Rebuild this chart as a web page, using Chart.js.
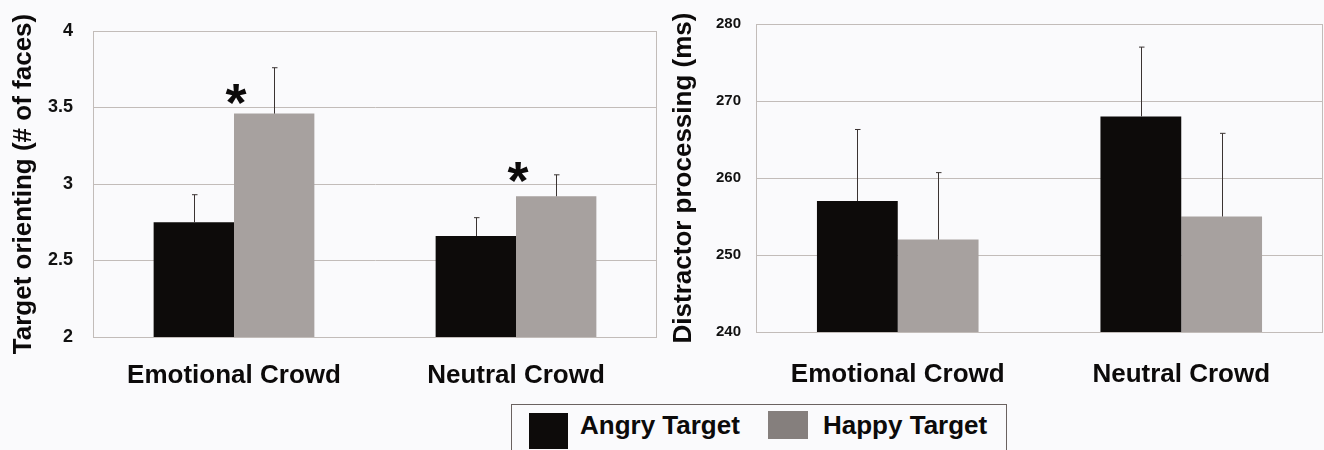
<!DOCTYPE html>
<html lang="en">
<head>
<meta charset="UTF-8">
<title>Target orienting and distractor processing</title>
<script src="https://cdn.jsdelivr.net/npm/chart.js"></script>
<style>
  html, body { margin: 0; padding: 0; background: #fafafc; overflow: hidden; }
  .wrap { position: relative; width: 1324px; height: 450px; overflow: hidden; font-family: "Liberation Sans", Arial, sans-serif; }
  #leftBox { position: absolute; left: 0; top: 0; width: 660px; height: 400px; }
  #rightBox { position: absolute; left: 660px; top: 0; width: 664px; height: 400px; }
  .legend { position: absolute; left: 511px; top: 404px; width: 496px; height: 60px; border: 1.5px solid #6a6260; box-sizing: border-box; }
  .legend .sw { position: absolute; width: 39px; height: 36px; }
  .legend .lab { position: absolute; top: 5px; font-weight: bold; font-size: 26px; color: #0c0a0a; }
</style>
</head>
<body>
<div class="wrap">
  <div id="leftBox"><canvas id="leftChart"></canvas></div>
  <div id="rightBox"><canvas id="rightChart"></canvas></div>
  <div class="legend">
    <div class="sw" style="left:17px; top:8px; background:#0d0b0a;"></div>
    <div class="lab" style="left:68px;">Angry Target</div>
    <div class="sw" style="left:256px; top:6px; width:40px; height:28px; background:#857f7d;"></div>
    <div class="lab" style="left:311px;">Happy Target</div>
  </div>
</div>

<script>
// categories and series
const categories = ['Emotional Crowd', 'Neutral Crowd'];
const seriesNames = ['Angry Target', 'Happy Target'];

// left panel: target orienting (# of faces)
const orientAngry = [2.75, 2.66];
const orientHappy = [3.46, 2.92];
const orientAngryErr = [2.93, 2.78];   // top of error bar
const orientHappyErr = [3.76, 3.06];
const orientTicks = [2, 2.5, 3, 3.5, 4];
const starValues = [3.61, 3.10];       // where the asterisks sit

// right panel: distractor processing (ms)
const distAngry = [257, 268];
const distHappy = [252, 255];
const distAngryErr = [266.3, 277];
const distHappyErr = [260.7, 265.8];
const distTicks = [240, 250, 260, 270, 280];

const angryColor = '#0d0b0a';
const happyColor = '#a7a19f';
const gridColor = '#c2bcb9';

// thin upper error bars with a small cap
const errorBars = {
  id: 'errorBars',
  afterDatasetsDraw(chart) {
    const ctx = chart.ctx;
    const y = chart.scales.y;
    ctx.save();
    ctx.strokeStyle = '#3a3332';
    ctx.lineWidth = 1;
    chart.data.datasets.forEach((ds, di) => {
      const meta = chart.getDatasetMeta(di);
      meta.data.forEach((bar, i) => {
        const top = y.getPixelForValue(ds.errTop[i]);
        const x = Math.round(bar.x) + 0.5;
        ctx.beginPath();
        ctx.moveTo(x, bar.y);
        ctx.lineTo(x, top);
        ctx.moveTo(x - 2.5, top);
        ctx.lineTo(x + 3, top);
        ctx.stroke();
      });
    });
    ctx.restore();
  }
};

// box around the plot area
const frame = {
  id: 'frame',
  beforeDatasetsDraw(chart) {
    const a = chart.chartArea;
    const ctx = chart.ctx;
    ctx.save();
    ctx.strokeStyle = gridColor;
    ctx.lineWidth = 1;
    ctx.strokeRect(Math.round(a.left) + 0.5, Math.round(a.top) + 0.5, Math.round(a.right - a.left) - 1, Math.round(a.bottom - a.top));
    ctx.restore();
  }
};

// significance asterisks
const stars = {
  id: 'stars',
  afterDatasetsDraw(chart, args, opts) {
    if (!opts.values) return;
    const ctx = chart.ctx;
    ctx.save();
    ctx.fillStyle = '#0c0a0a';
    ctx.font = 'bold 54px "Liberation Sans", Arial, sans-serif';
    ctx.textAlign = 'center';
    ctx.textBaseline = 'alphabetic';
    opts.values.forEach((v, i) => {
      const x = chart.scales.x.getPixelForValue(i) + 2;
      const y = chart.scales.y.getPixelForValue(v);
      ctx.fillText('*', x, y + 30);
    });
    ctx.restore();
  }
};

function makeChart(id, angry, happy, angryErr, happyErr, ticks, title, opts) {
  return new Chart(document.getElementById(id), {
    type: 'bar',
    data: {
      labels: categories,
      datasets: [
        { label: seriesNames[0], data: angry, errTop: angryErr, backgroundColor: angryColor },
        { label: seriesNames[1], data: happy, errTop: happyErr, backgroundColor: happyColor }
      ]
    },
    options: {
      responsive: true,
      maintainAspectRatio: false,
      animation: false,
      categoryPercentage: 0.57,
      barPercentage: 1,
      layout: { padding: { top: opts.top, right: opts.right, left: 0, bottom: 0 } },
      plugins: {
        legend: { display: false },
        tooltip: { enabled: false },
        stars: { values: opts.stars }
      },
      scales: {
        x: {
          grid: { display: false, drawTicks: false },
          border: { display: false },
          ticks: {
            color: '#0c0a0a',
            padding: opts.xPad,
            font: { family: '"Liberation Sans", Arial, sans-serif', size: 26, weight: 'bold' }
          },
          afterFit(s) { s.height = opts.xHeight; }
        },
        y: {
          min: ticks[0],
          max: ticks[ticks.length - 1],
          afterBuildTicks(s) { s.ticks = ticks.map(v => ({ value: v })); },
          grid: { color: gridColor, drawTicks: false },
          border: { display: true, color: gridColor },
          ticks: {
            color: '#111',
            padding: opts.yPad,
            callback: v => String(v),
            font: { family: '"Liberation Sans", Arial, sans-serif', size: opts.tickSize, weight: 'bold' }
          },
          title: {
            display: true,
            text: title,
            color: '#0c0a0a',
            padding: { top: 8, bottom: 0 },
            font: { family: '"Liberation Sans", Arial, sans-serif', size: 26, weight: 'bold' }
          },
          afterFit(s) { s.width = opts.yWidth; }
        }
      }
    },
    plugins: [frame, errorBars, stars]
  });
}

makeChart('leftChart', orientAngry, orientHappy, orientAngryErr, orientHappyErr, orientTicks,
  'Target orienting (# of faces)',
  { top: 31, right: 3, xHeight: 63, xPad: 23, yPad: 20, yWidth: 93, tickSize: 18, stars: starValues });

makeChart('rightChart', distAngry, distHappy, distAngryErr, distHappyErr, distTicks,
  'Distractor processing (ms)',
  { top: 23, right: 1, xHeight: 68, xPad: 27, yPad: 15, yWidth: 96, tickSize: 15, stars: null });
</script>
</body>
</html>
